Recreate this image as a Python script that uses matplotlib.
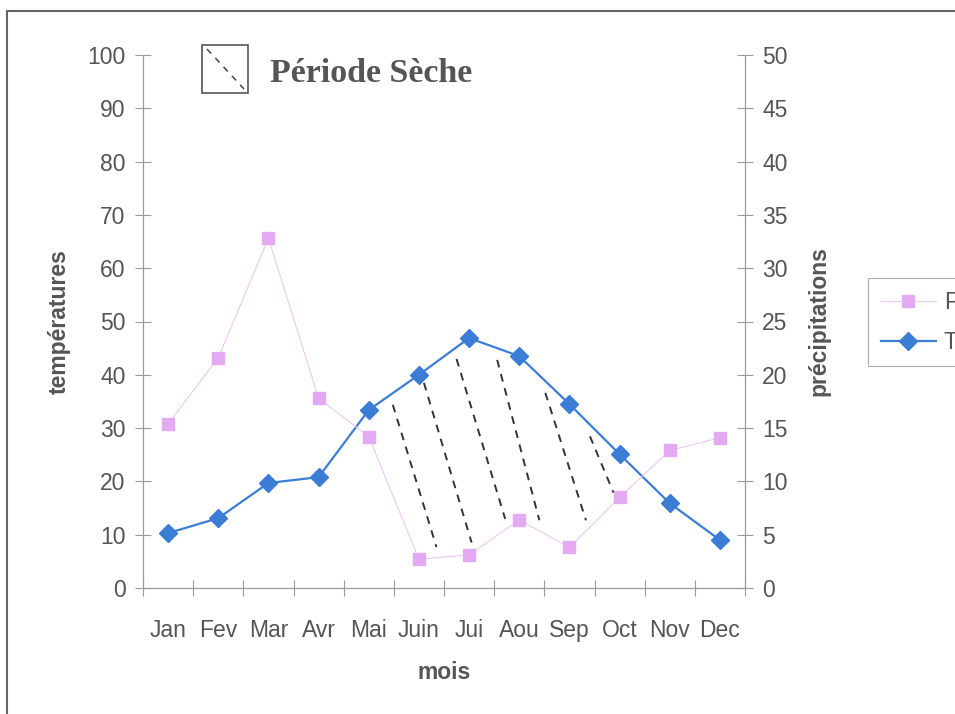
import matplotlib.pyplot as plt
import numpy as np
from matplotlib.patches import Rectangle
from matplotlib.lines import Line2D

months = ['Jan', 'Fev', 'Mar', 'Avr', 'Mai', 'Juin', 'Jui', 'Aou', 'Sep', 'Oct', 'Nov', 'Dec']
temp = [10.3, 13.1, 19.7, 20.8, 33.4, 40.0, 46.9, 43.5, 34.5, 25.1, 15.9, 9.0]
precip = [15.4, 21.6, 32.8, 17.8, 14.2, 2.7, 3.1, 6.4, 3.8, 8.5, 12.9, 14.1]

# dry period hatching: start / end position (month index) of each dashed stroke
hatch_start = [4.48, 5.10, 5.75, 6.56, 7.52, 8.41]
hatch_end = [5.35, 6.05, 6.72, 7.40, 8.33, 8.88]

GREY = '#555555'
AX = '#9a9a9a'
BLUE = '#3b7dd4'
PINK = '#e3a9f2'
FS = 16.5

plt.rcParams['font.family'] = ['Liberation Sans', 'DejaVu Sans']

fig = plt.figure(figsize=(9.55, 7.14), dpi=100)
ax = fig.add_axes([143 / 955, 1 - 588 / 714, 602 / 955, 533 / 714])
ax2 = ax.twinx()

x = np.arange(len(months))
ax.plot(x, temp, color=BLUE, lw=1.6, marker='D', ms=9.5, mfc=BLUE, mec=BLUE, zorder=5)
ax2.plot(x, precip, color='#ecc8f5', lw=0.8, marker='s', ms=8.5, mfc=PINK, mec=PINK, zorder=4)

# hatching between the two curves (precip drawn in temperature units: x2)
p_left = np.array(precip) * 2
for xs, xe in zip(hatch_start, hatch_end):
    ys = np.interp(xs, x, temp) - 2.2
    ye = np.interp(xe, x, p_left) + 2.0
    ax.plot([xs, xe], [ys, ye], color='#333333', lw=1.4, ls=(0, (4, 3.5)), zorder=3)

ax.set_xlim(-0.5, 11.5)
ax.set_ylim(0, 100)
ax2.set_ylim(0, 50)
ax.set_yticks(range(0, 101, 10))
ax2.set_yticks(range(0, 51, 5))
ax.set_xticks(x)
ax.set_xticklabels(months)
ax.set_xticks(np.arange(-0.5, 12, 1), minor=True)

for a in (ax, ax2):
    for s in a.spines.values():
        s.set_color(AX)
        s.set_linewidth(0.8)
    a.spines['top'].set_visible(False)
    a.tick_params(axis='y', direction='inout', length=11, width=0.8, color=AX,
                  labelsize=FS, labelcolor=GREY, pad=7)
ax.tick_params(axis='x', which='major', length=0, labelsize=FS, labelcolor=GREY, pad=22)
ax.tick_params(axis='x', which='minor', direction='inout', length=11, width=0.8, color=AX)

ax.set_ylabel('températures', fontsize=FS, fontweight='bold', color=GREY, labelpad=12)
ax2.set_ylabel('précipitations', fontsize=FS, fontweight='bold', color=GREY, labelpad=14)
ax.set_xlabel('mois', fontsize=FS, fontweight='bold', color=GREY, labelpad=14)

# "Période Sèche" key in top left
fig.patches.append(Rectangle((202 / 955, 1 - 93 / 714), 46 / 955, 48 / 714,
                             transform=fig.transFigure, fill=False, ec='#555555', lw=1.2))
fig.lines.append(Line2D([207 / 955, 244 / 955], [1 - 49 / 714, 1 - 89 / 714],
                        transform=fig.transFigure, color='#444444', lw=1.1, ls=(0, (4, 4))))
fig.text(270 / 955, 1 - 73 / 714, 'Période Sèche', family='Liberation Serif', fontweight='bold',
         fontsize=24.5, color=GREY, va='center', ha='left')

# series legend, partly cut by the right edge
handles = [Line2D([], [], color='#ecc8f5', lw=0.8, marker='s', ms=8.5, mfc=PINK, mec=PINK),
           Line2D([], [], color=BLUE, lw=1.6, marker='D', ms=9.5, mfc=BLUE, mec=BLUE)]
leg = fig.legend(handles, ['Précipitations', 'Températures'], loc='upper left',
                 bbox_to_anchor=(868 / 955, 1 - 278 / 714), fontsize=FS, frameon=True,
                 fancybox=False, edgecolor=AX, handlelength=2.4, labelspacing=0.75,
                 borderpad=0.55, handletextpad=0.35, borderaxespad=0)
leg.get_frame().set_linewidth(0.8)
for t in leg.get_texts():
    t.set_color(GREY)

# outer frame
fig.patches.append(Rectangle((7 / 955, -0.05), 1.1, 1 - 11 / 714 + 0.05,
                             transform=fig.transFigure, fill=False, ec='#666666', lw=1.5))

fig.savefig('out.png', dpi=100, facecolor='white')
